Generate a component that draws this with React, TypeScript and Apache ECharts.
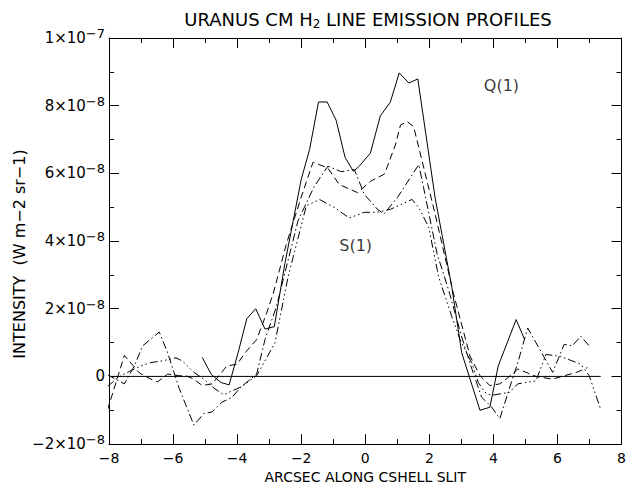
import React, { useEffect, useRef } from "react";
import * as echarts from "echarts";

// Slit position (arcsec) and intensity (units of 1e-8 W m-2 sr-1) pairs
const q1Profile: [number, number][] = [
  [-5.09, 0.56], [-4.8, 0.05], [-4.5, -0.18], [-4.25, -0.25], [-3.97, 0.7],
  [-3.7, 1.7], [-3.42, 2.0], [-3.13, 1.4], [-2.84, 1.47], [-2.51, 3.33],
  [-2.0, 5.82], [-1.74, 6.7], [-1.46, 8.11], [-1.19, 8.11], [-0.91, 7.57],
  [-0.63, 6.47], [-0.37, 6.06], [-0.2, 6.2], [0.16, 6.6], [0.47, 7.7],
  [0.78, 8.1], [1.06, 8.97], [1.36, 8.67], [1.64, 8.79], [2.18, 5.28],
  [2.7, 2.65], [3.01, 0.7], [3.58, -1.0], [3.89, -0.91], [4.15, 0.31],
  [4.71, 1.68], [4.97, 1.1],
];

const dashedProfile: [number, number][] = [
  [-8.05, -1.0], [-7.52, 0.62], [-7.05, 0.1], [-6.69, -0.08], [-6.48, -0.16],
  [-6.17, 0.07], [-5.81, 0.02], [-5.6, 0.02], [-5.35, -0.08], [-5.09, -0.27],
  [-4.78, -0.22], [-4.57, 0.02], [-4.32, 0.31], [-4.0, 0.36], [-3.75, 0.7],
  [-3.39, 1.09], [-3.08, 1.87], [-2.87, 2.46], [-2.46, 3.92], [-2.0, 5.3],
  [-1.63, 6.33], [-1.17, 6.16], [-0.81, 5.67], [-0.24, 5.43], [0.17, 5.77],
  [0.6, 5.98], [0.94, 6.84], [1.1, 7.43], [1.31, 7.53], [1.51, 7.38],
  [2.18, 4.8], [2.75, 2.46], [3.27, 0.6], [3.58, 0.02], [3.89, -0.27],
  [4.2, -0.22], [4.5, 0.0], [4.76, 0.22], [5.02, 0.12], [5.33, 0.0],
  [5.85, -0.08], [6.21, 0.02], [6.6, 0.12], [6.93, 0.26],
];

const dashDotProfile: [number, number][] = [
  [-8.05, 0.05], [-7.52, -0.22], [-7.21, 0.31], [-6.95, 0.9], [-6.69, 1.11],
  [-6.43, 1.31], [-6.17, 0.7], [-5.81, -0.35], [-5.35, -1.44], [-5.04, -1.1],
  [-4.78, -1.05], [-4.47, -0.76], [-4.16, -0.62], [-3.9, -0.33], [-3.39, 0.07],
  [-3.13, 1.09], [-2.77, 2.07], [-2.1, 4.6], [-1.6, 5.6], [-1.17, 6.21],
  [-0.75, 6.05], [-0.34, 6.11], [-0.03, 5.38], [0.38, 4.94], [0.58, 4.8],
  [1.0, 5.28], [1.67, 6.26], [1.82, 5.58], [2.24, 3.63], [2.6, 2.56],
  [3.0, 1.2], [3.3, 0.3], [3.63, -0.61], [3.94, -0.9], [4.2, -1.25],
  [4.5, -0.35], [4.76, 0.4], [5.07, 1.43], [5.85, 0.12], [6.21, 0.95],
  [6.46, 0.9], [6.73, 1.19], [6.99, 0.9],
];

const s1Profile: [number, number][] = [
  [-8.05, -0.3], [-7.67, 0.0], [-7.36, 0.15], [-7.0, 0.31], [-6.69, 0.41],
  [-6.33, 0.46], [-5.91, 0.55], [-5.7, 0.45], [-5.35, 0.12], [-5.04, -0.08],
  [-4.72, -0.35], [-4.42, -0.54], [-3.9, -0.32], [-3.39, 0.02], [-2.82, 0.99],
  [-2.41, 2.94], [-1.84, 5.04], [-1.43, 5.23], [-0.96, 4.99], [-0.5, 4.68],
  [-0.03, 4.85], [0.38, 4.85], [0.79, 4.94], [1.46, 5.23], [1.67, 4.99],
  [1.98, 4.41], [2.29, 2.94], [2.7, 1.77], [2.96, 1.09], [3.32, 0.41],
  [3.53, -0.18], [3.73, -0.47], [3.94, -0.56], [4.5, -0.47], [4.76, -0.22],
  [5.33, -0.13], [5.64, 0.65], [6.1, 0.59], [6.73, 0.36], [6.99, 0.02],
  [7.34, -0.95],
];

const zeroLevel: [number, number][] = [[-8, 0], [7.35, 0]];

const lineLabels: { text: string; at: [number, number] }[] = [
  { text: "Q(1)", at: [4.25, 8.59] },
  { text: "S(1)", at: [-0.3, 3.87] },
];

const FONT = "DejaVu Sans";
const INK = "#000";

const minus = (v: number) => (v < 0 ? "\u2212" + Math.abs(v) : String(v));

const yLabel = (v: number) => {
  if (v === 0) return "0";
  if (v === 10) return "{m|1×10}{e|\u22127}";
  return `{m|${minus(v)}×10}{e|\u22128}`;
};

const axisCommon = {
  axisLine: { show: true, onZero: false, lineStyle: { color: INK, width: 1 } },
  axisTick: { show: true, inside: true, length: 10, lineStyle: { color: INK, width: 1 } },
  minorTick: { show: true, splitNumber: 2, length: 5, lineStyle: { color: INK, width: 1 } },
  splitLine: { show: false },
  minorSplitLine: { show: false },
};

function lineSeries(data: [number, number][], dash: any) {
  return {
    type: "line",
    data,
    symbol: "none",
    silent: true,
    lineStyle: { color: INK, width: 1, type: dash },
  };
}

export default function App() {
  const ref = useRef<HTMLDivElement>(null);

  useEffect(() => {
    if (!ref.current) return;
    const chart = echarts.init(ref.current, null, { renderer: "svg" });
    chart.setOption({
      animation: false,
      backgroundColor: "#fff",
      grid: { left: 109, right: 3, top: 38, bottom: 40 },
      xAxis: [
        {
          type: "value",
          min: -8,
          max: 8,
          interval: 2,
          position: "bottom",
          ...axisCommon,
          axisLabel: {
            color: INK,
            fontFamily: FONT,
            fontSize: 14,
            margin: 7,
            formatter: (v: number) => minus(v),
          },
          name: "ARCSEC ALONG CSHELL SLIT",
          nameLocation: "middle",
          nameGap: 22,
          nameTextStyle: { color: INK, fontFamily: FONT, fontSize: 14 },
        },
        {
          type: "value",
          min: -8,
          max: 8,
          interval: 2,
          position: "top",
          ...axisCommon,
          axisLabel: { show: false },
        },
      ],
      yAxis: [
        {
          type: "value",
          min: -2,
          max: 10,
          interval: 2,
          position: "left",
          ...axisCommon,
          axisLabel: {
            color: INK,
            fontFamily: FONT,
            margin: 4,
            formatter: yLabel,
            fontSize: 15,
            rich: {
              m: { fontSize: 15, fontFamily: FONT, color: INK },
              e: { fontSize: 13, fontFamily: FONT, color: INK, padding: [0, 0, 9, 0] },
            },
          },
        },
        {
          type: "value",
          min: -2,
          max: 10,
          interval: 2,
          position: "right",
          ...axisCommon,
          axisLabel: { show: false },
        },
      ],
      graphic: [
        {
          type: "text",
          x: 368,
          y: 19,
          style: {
            text: "URANUS CM H{s|2} LINE EMISSION PROFILES",
            fill: INK,
            fontFamily: FONT,
            fontSize: 18,
            align: "center",
            verticalAlign: "middle",
            rich: {
              s: { fontSize: 12, fontFamily: FONT, fill: INK, padding: [9, 0, 0, 0] },
            },
          },
        },
        {
          type: "text",
          x: 19,
          y: 254,
          rotation: Math.PI / 2,
          style: {
            text: "INTENSITY  (W m\u22122 sr\u22121)",
            fill: INK,
            fontFamily: FONT,
            fontSize: 16,
            align: "center",
            verticalAlign: "middle",
          },
        },
      ],
      series: [
        lineSeries(zeroLevel, "solid"),
        lineSeries(q1Profile, "solid"),
        lineSeries(dashedProfile, [7, 4]),
        lineSeries(dashDotProfile, [8, 3, 1.5, 3]),
        lineSeries(s1Profile, [8, 3, 1.5, 3, 1.5, 3, 1.5, 3]),
        {
          type: "scatter",
          silent: true,
          symbolSize: 0,
          data: lineLabels.map((l) => ({ value: l.at, name: l.text })),
          label: {
            show: true,
            position: "inside",
            formatter: (p: any) => p.name,
            color: INK,
            fontFamily: FONT,
            fontSize: 16,
          },
        },
      ],
    });
    return () => chart.dispose();
  }, []);

  return (
    <div
      ref={ref}
      style={{ position: "fixed", left: 0, top: 0, width: 629, height: 489 }}
    />
  );
}
